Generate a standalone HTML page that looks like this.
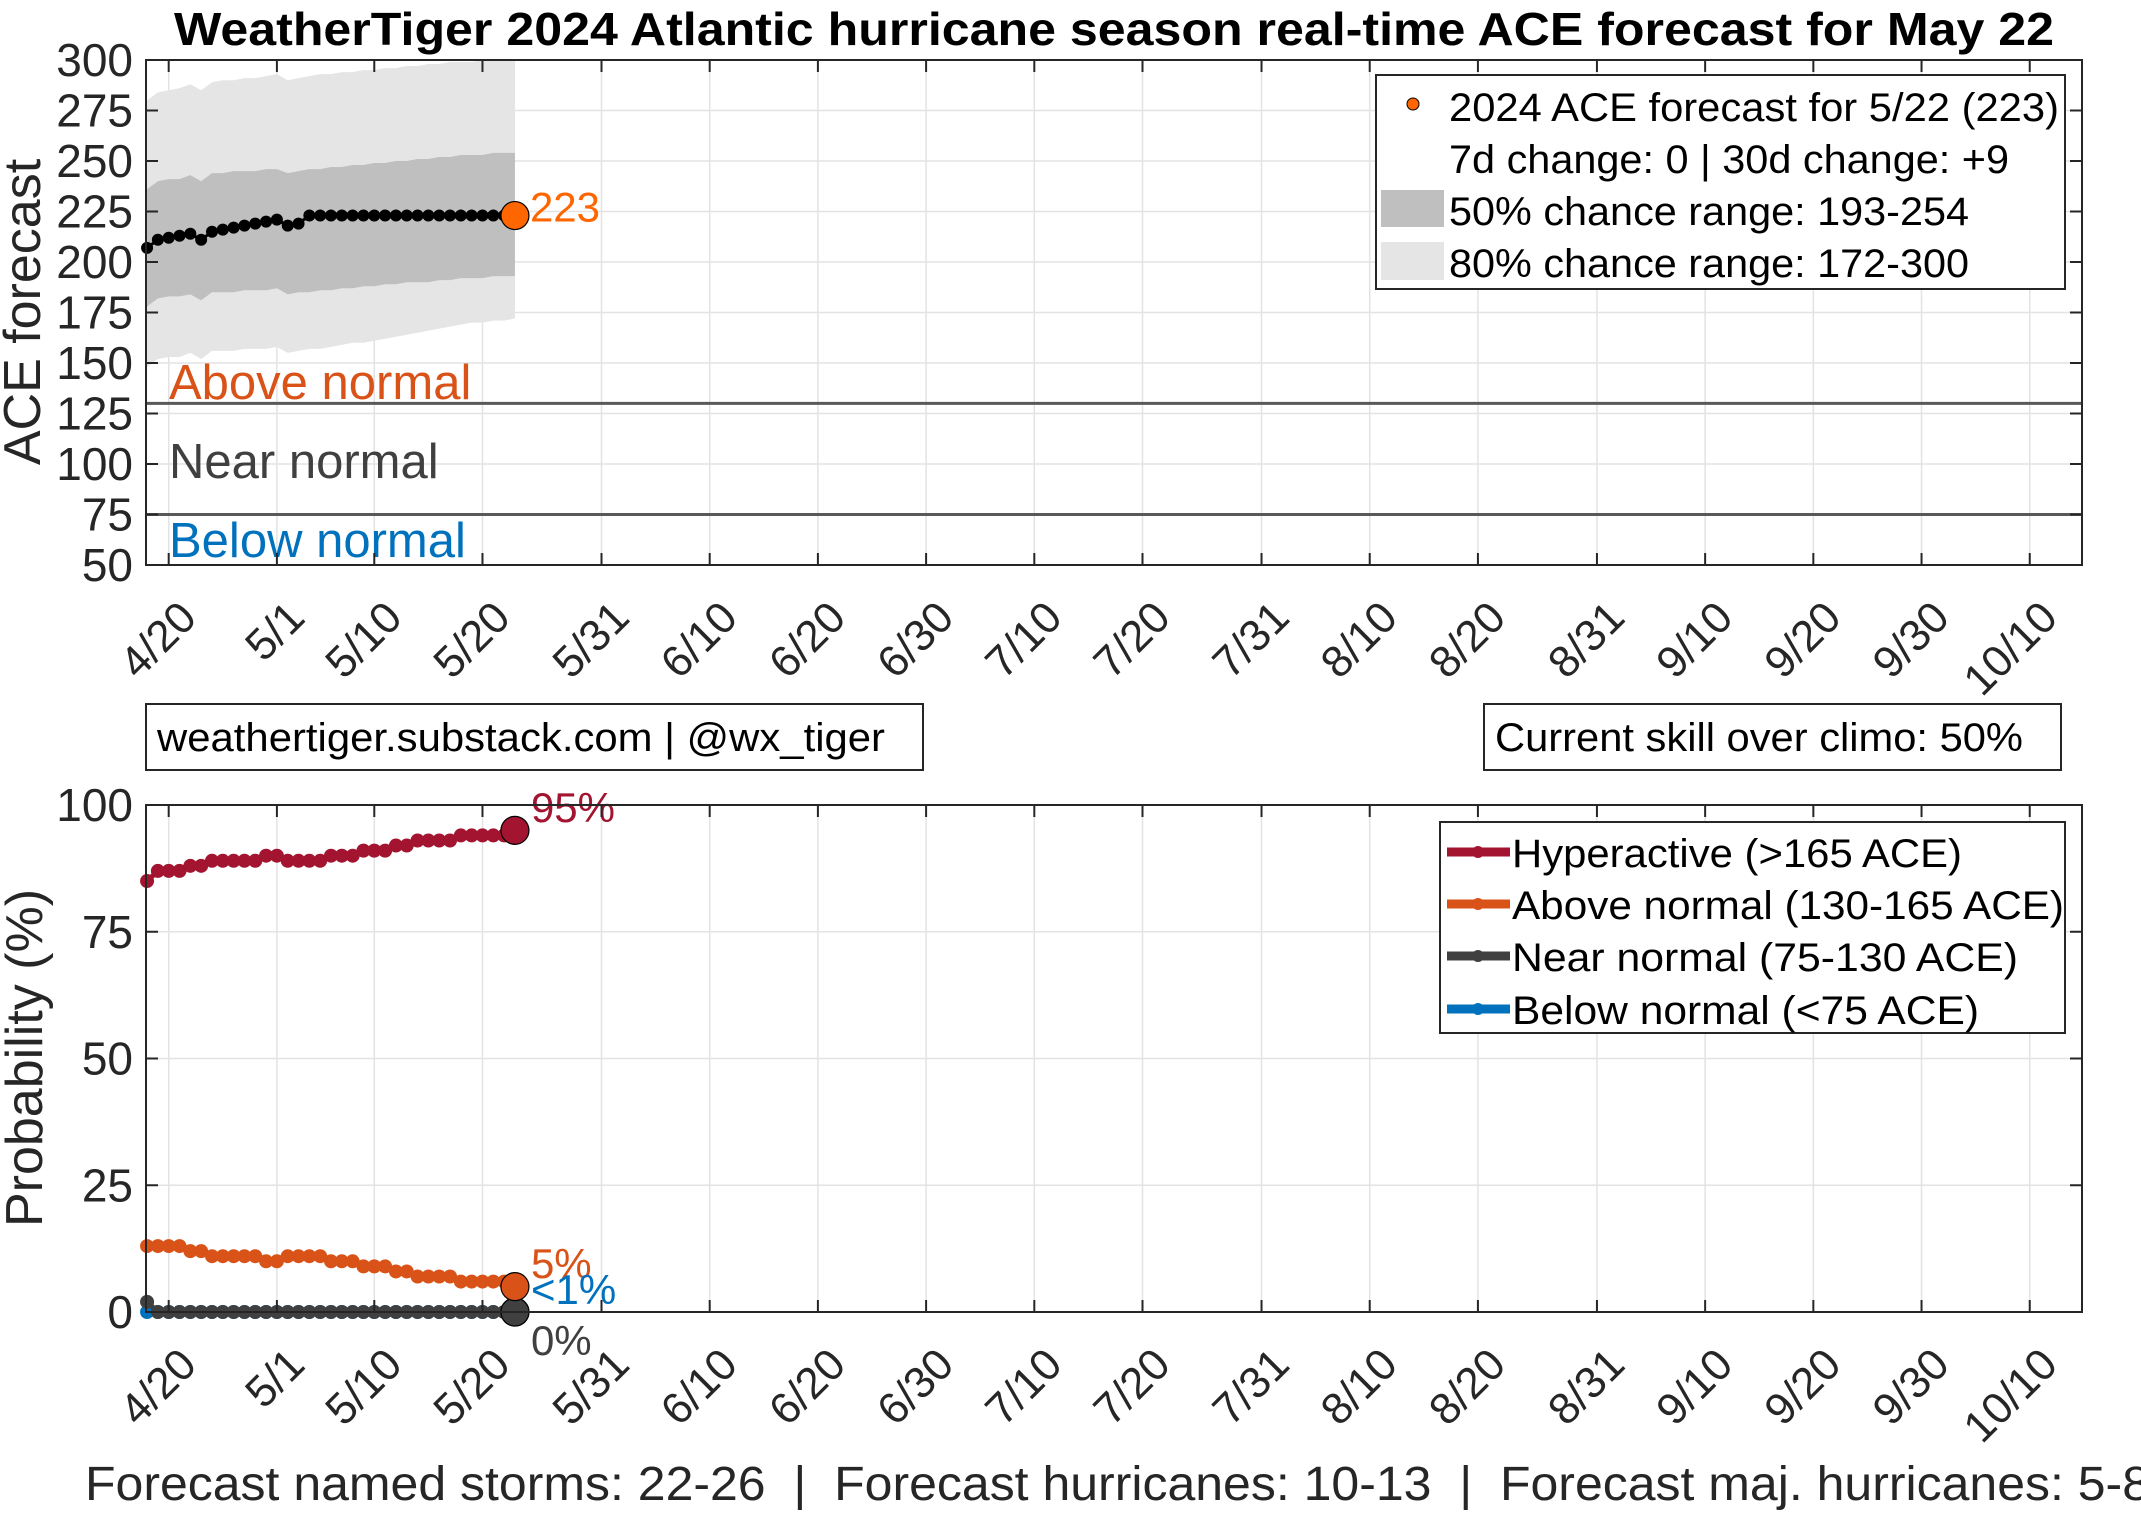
<!DOCTYPE html>
<html><head><meta charset="utf-8"><style>
html,body{margin:0;padding:0;background:#fff;}
svg{display:block;font-family:"Liberation Sans",Arial,sans-serif;}
</style></head><body>
<svg id="chart" width="2141" height="1514" viewBox="0 0 2141 1514" xmlns="http://www.w3.org/2000/svg">
<text x="1114" y="45" text-anchor="middle" font-weight="bold" font-size="46" fill="#000" textLength="1880" lengthAdjust="spacingAndGlyphs">WeatherTiger 2024 Atlantic hurricane season real-time ACE forecast for May 22</text>
<g id="topAxes"></g>
<g id="botAxes"></g>
<g>
<rect x="146" y="704" width="777" height="66" fill="#fff" stroke="#262626" stroke-width="2"/>
<text x="157" y="751" font-size="40" fill="#000" textLength="728" lengthAdjust="spacingAndGlyphs">weathertiger.substack.com | @wx_tiger</text>
</g>
<g>
<rect x="1484" y="704" width="577" height="66" fill="#fff" stroke="#262626" stroke-width="2"/>
<text x="1495" y="751" font-size="40" fill="#000" textLength="528" lengthAdjust="spacingAndGlyphs">Current skill over climo: 50%</text>
</g>
<text x="85" y="1500" font-size="48" fill="#262626" textLength="2065" lengthAdjust="spacingAndGlyphs">Forecast named storms: 22-26 &#160;|&#160; Forecast hurricanes: 10-13 &#160;|&#160; Forecast maj. hurricanes: 5-8</text>
</svg>
<script>
// ---- data ----
const tickLabels = ["4/20","5/1","5/10","5/20","5/31","6/10","6/20","6/30","7/10","7/20","7/31","8/10","8/20","8/31","9/10","9/20","9/30","10/10"];
const tickDays = [1,11,20,30,41,51,61,71,81,91,102,112,122,133,143,153,163,173];
const firstDataDay = -1;
const aceMedian = [207,211,212,213,214,211,215,216,217,218,219,220,221,218,219,223,223,223,223,223,223,223,223,223,223,223,223,223,223,223,223,223,223,223,223];
const ace80Hi = [280,284,285,286,288,285,289,290,290,291,291,292,293,290,291,292,293,293,294,294,295,295,296,296,297,297,298,298,299,299,299,300,300,300,300];
const ace80Lo = [148,152,153,153,155,152,156,156,156,157,157,157,158,155,156,157,157,158,159,160,160,161,162,163,164,165,166,167,168,169,170,170,171,171,172];
const ace50Hi = [236,240,241,241,243,240,244,244,245,245,245,246,246,244,245,246,246,247,247,248,248,249,249,250,250,251,251,252,252,253,253,253,254,254,254];
const ace50Lo = [178,182,183,183,184,181,185,185,185,186,186,186,187,184,185,185,186,186,187,187,188,188,189,189,190,190,190,191,191,192,192,192,193,193,193];
const probHyper = [85,87,87,87,88,88,89,89,89,89,89,90,90,89,89,89,89,90,90,90,91,91,91,92,92,93,93,93,93,94,94,94,94,94,95];
const probAbove = [13,13,13,13,12,12,11,11,11,11,11,10,10,11,11,11,11,10,10,10,9,9,9,8,8,7,7,7,7,6,6,6,6,6,5];
const probNear = [2,0,0,0,0,0,0,0,0,0,0,0,0,0,0,0,0,0,0,0,0,0,0,0,0,0,0,0,0,0,0,0,0,0,0];
const probBelow = [0,0,0,0,0,0,0,0,0,0,0,0,0,0,0,0,0,0,0,0,0,0,0,0,0,0,0,0,0,0,0,0,0,0,0];
const aceTicks = [50,75,100,125,150,175,200,225,250,275,300];
const probTicks = [0,25,50,75,100];
const thresholds = [130,75];

const NS = "http://www.w3.org/2000/svg";
function mk(tag, attrs, parent, txt){const e=document.createElementNS(NS,tag);for(const k in attrs)e.setAttribute(k,attrs[k]);if(txt!==undefined)e.textContent=txt;parent.appendChild(e);return e;}
const L=146,R=2082;
const xs = d => 168.7 + (d-1)*10.82;
const topY = v => 565 - (v-50)*(505/250);
const botY = v => 1312 - v*5.07;
const dayOf = i => firstDataDay + i;

function axesFrame(g, T, B, yTicks, yf){
  tickDays.forEach(d=>{const l=mk('line',{x1:xs(d),x2:xs(d),y1:T,y2:B,stroke:'#e3e3e3','stroke-width':1.5},g);
  
  });
  yTicks.forEach(v=>{const l=mk('line',{x1:L,x2:R,y1:yf(v),y2:yf(v),stroke:'#e3e3e3','stroke-width':1.5},g);
  
  });
}
function axesOverlay(g,T,B,yTicks,yf){
  const r=mk('rect',{x:L,y:T,width:R-L,height:B-T,fill:'none',stroke:'#262626','stroke-width':2},g);
  
  
  tickDays.forEach((d,i)=>{
    mk('line',{x1:xs(d),x2:xs(d),y1:B,y2:B-12,stroke:'#262626','stroke-width':2},g);
    mk('line',{x1:xs(d),x2:xs(d),y1:T,y2:T+12,stroke:'#262626','stroke-width':2},g);
    const ex=xs(d)+30, ey=B+55;
    const t=mk('text',{x:ex,y:ey,'text-anchor':'end','font-size':44,fill:'#262626',transform:`rotate(-45 ${ex} ${ey})`},g,tickLabels[i]);
    
    
  });
  yTicks.forEach(v=>{
    mk('line',{x1:L,x2:L+12,y1:yf(v),y2:yf(v),stroke:'#262626','stroke-width':2},g);
    mk('line',{x1:R,x2:R-12,y1:yf(v),y2:yf(v),stroke:'#262626','stroke-width':2},g);
    const t=mk('text',{x:133,y:yf(v)+16,'text-anchor':'end','font-size':46,fill:'#262626'},g,String(v));
    
    
  });
}

// ---- top axes ----
const topG=document.getElementById('topAxes');
axesFrame(topG,60,565,aceTicks,topY);
function band(hi,lo,fill,name){
  let p='';hi.forEach((v,i)=>{p+=(i?'L':'M')+xs(dayOf(i))+','+topY(v);});
  for(let i=lo.length-1;i>=0;i--)p+='L'+xs(dayOf(i))+','+topY(lo[i]);
  const e=mk('path',{d:p+'Z',fill:fill},topG);
  
  
}
band(ace80Hi,ace80Lo,'#e5e5e5','band-80pct');
band(ace50Hi,ace50Lo,'#bfbfbf','band-50pct');
thresholds.forEach(v=>{const l=mk('line',{x1:L,x2:R,y1:topY(v),y2:topY(v),stroke:'#595959','stroke-width':3},topG);

});
{
  let p='';aceMedian.forEach((v,i)=>{p+=(i?'L':'M')+xs(dayOf(i))+','+topY(v);});
  const l=mk('path',{d:p,fill:'none',stroke:'#000','stroke-width':3},topG);
  
  
  aceMedian.forEach((v,i)=>{if(i===aceMedian.length-1)return;const c=mk('circle',{cx:xs(dayOf(i)),cy:topY(v),r:6,fill:'#000'},topG);
  
  });
  const n=aceMedian.length-1;
  const c=mk('circle',{cx:xs(dayOf(n)),cy:topY(aceMedian[n]),r:14,fill:'#FF6600',stroke:'#000','stroke-width':1.2},topG);
  
  
  const t=mk('text',{x:xs(dayOf(n))+15,y:topY(aceMedian[n])+6,'font-size':42,fill:'#FF6600'},topG,String(aceMedian[n]));
  
  
}
[['Above normal','#D95319',399,'above-normal-label'],['Near normal','#404040',478,'near-normal-label'],['Below normal','#0072BD',557,'below-normal-label']].forEach(a=>{
  const t=mk('text',{x:169,y:a[2],'font-size':49,fill:a[1]},topG,a[0]);
  
  
});
axesOverlay(topG,60,565,aceTicks,topY);
{const t=mk('text',{x:40,y:312,'text-anchor':'middle','font-size':52,fill:'#262626',transform:'rotate(-90 40 312)'},topG,'ACE forecast');

}
{
  const lg=mk('g',{},topG);
  
  
  mk('rect',{x:1376,y:75,width:689,height:214,fill:'#fff',stroke:'#262626','stroke-width':2},lg);
  mk('circle',{cx:1413,cy:104,r:6,fill:'#FF6600',stroke:'#000','stroke-width':1},lg);
  mk('rect',{x:1381,y:190,width:63,height:37,fill:'#bfbfbf'},lg);
  mk('rect',{x:1381,y:242,width:63,height:38,fill:'#e5e5e5'},lg);
  const rows=[['2024 ACE forecast for 5/22 (223)',121,610],['7d change: 0 | 30d change: +9',173,560],['50% chance range: 193-254',225,520],['80% chance range: 172-300',277,520]];
  rows.forEach(r=>{const t=mk('text',{x:1449,y:r[1],'font-size':40,fill:'#000',textLength:r[2],lengthAdjust:'spacingAndGlyphs'},lg,r[0]);
  
  });
}

// ---- bottom axes ----
const botG=document.getElementById('botAxes');
axesFrame(botG,805,1312,probTicks,botY);
function series(vals,color,name){
  let p='';vals.forEach((v,i)=>{p+=(i?'L':'M')+xs(dayOf(i))+','+botY(v);});
  const l=mk('path',{d:p,fill:'none',stroke:color,'stroke-width':5},botG);
  
  
  vals.forEach((v,i)=>{if(i===vals.length-1)return;const c=mk('circle',{cx:xs(dayOf(i)),cy:botY(v),r:7,fill:color},botG);
  
  });
  const n=vals.length-1;
  const c=mk('circle',{cx:xs(dayOf(n)),cy:botY(vals[n]),r:14,fill:color,stroke:'#000','stroke-width':1.2},botG);
  
  
}
series(probBelow,'#0072BD','below-normal');
series(probNear,'#404040','near-normal');
series(probAbove,'#D95319','above-normal');
series(probHyper,'#A2142F','hyperactive');
const lastX=xs(dayOf(probHyper.length-1))+16;
[['95%','#A2142F',822,'hyperactive-label'],['5%','#D95319',1278,'above-normal-label'],['<1%','#0072BD',1304,'below-normal-label'],['0%','#404040',1355,'near-normal-label']].forEach(a=>{
  const t=mk('text',{x:lastX,y:a[2],'font-size':42,fill:a[1]},botG,a[0]);
  
  
});
axesOverlay(botG,805,1312,probTicks,botY);
{const t=mk('text',{x:42,y:1058,'text-anchor':'middle','font-size':52,fill:'#262626',transform:'rotate(-90 42 1058)'},botG,'Probability (%)');

}
{
  const lg=mk('g',{},botG);
  
  
  mk('rect',{x:1440,y:822,width:625,height:211,fill:'#fff',stroke:'#262626','stroke-width':2},lg);
  const rows=[['Hyperactive (>165 ACE)','#A2142F',852,450],['Above normal (130-165 ACE)','#D95319',904,552],['Near normal (75-130 ACE)','#404040',956,506],['Below normal (<75 ACE)','#0072BD',1009,467]];
  rows.forEach(r=>{
    mk('line',{x1:1447,x2:1510,y1:r[2],y2:r[2],stroke:r[1],'stroke-width':9},lg);
    mk('circle',{cx:1478,cy:r[2],r:6,fill:r[1]},lg);
    const t=mk('text',{x:1512,y:r[2]+15,'font-size':40,fill:'#000',textLength:r[3],lengthAdjust:'spacingAndGlyphs'},lg,r[0]);
    
    
  });
}
</script>
</body></html>
